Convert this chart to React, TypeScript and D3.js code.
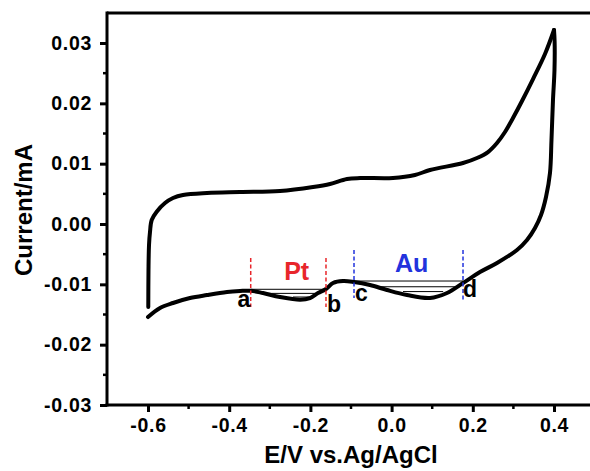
import React, { useRef, useEffect } from 'react';
import * as d3 from 'd3';

// anodic sweep, -0.6 V up to 0.4 V
const anodicE = [-0.5993, -0.5988, -0.5975, -0.5951, -0.5909, -0.5786, -0.5581, -0.5384, -0.5138, -0.4547, -0.3734, -0.2749, -0.1936, -0.1517, -0.1099, -0.0778, 0.0034, 0.0576, 0.0946, 0.1759, 0.2103, 0.2374, 0.2596, 0.2793, 0.299, 0.3212, 0.3483, 0.3778, 0.4];
const anodicI = [-0.01376, -0.00762, -0.00348, -0.00133, 0.00066, 0.00204, 0.00348, 0.00431, 0.00481, 0.00514, 0.0053, 0.00547, 0.00613, 0.00663, 0.00746, 0.00762, 0.00762, 0.00812, 0.00895, 0.01011, 0.01094, 0.01193, 0.01343, 0.01525, 0.01757, 0.02039, 0.02403, 0.02818, 0.03216];

// cathodic sweep, back from 0.4 V to -0.6 V
const cathodicE = [0.4, 0.4015, 0.4012, 0.3975, 0.3938, 0.3901, 0.3803, 0.368, 0.3532, 0.3335, 0.3089, 0.2596, 0.2177, 0.1759, 0.1365, 0.0946, 0.0379, -0.0113, -0.0532, -0.0926, -0.1197, -0.1443, -0.1616, -0.1813, -0.201, -0.225, -0.2749, -0.3167, -0.347, -0.3734, -0.4054, -0.4547, -0.4966, -0.5384, -0.5704, -0.6];
const cathodicI = [0.03216, 0.0303, 0.02553, 0.02055, 0.01392, 0.00845, 0.00448, 0.00149, -0.00066, -0.00265, -0.00431, -0.00646, -0.00796, -0.00978, -0.01144, -0.01227, -0.01177, -0.01094, -0.01011, -0.00961, -0.00945, -0.00978, -0.01077, -0.01144, -0.01227, -0.01255, -0.0121, -0.01144, -0.01106, -0.01111, -0.01127, -0.01177, -0.01227, -0.01309, -0.01392, -0.01542];

const xTicks = [-0.6, -0.4, -0.2, 0.0, 0.2, 0.4];
const yTicks = [-0.03, -0.02, -0.01, 0.0, 0.01, 0.02, 0.03];

// integration limits a,b (Pt) and c,d (Au)
const markerLabels = ['a', 'b', 'c', 'd'];
const markerE = [-0.347, -0.1616, -0.0926, 0.1759];
const markerColors = ['#e8262b', '#e8262b', '#2233dd', '#2233dd'];

// baseline segments [e1, e2, i]
const baseLines = [
  [-0.347, -0.1616, -0.01082],
  [-0.317, -0.176, -0.0115],
  [-0.243, -0.194, -0.0121],
  [-0.0926, 0.1759, -0.00945],
  [-0.036, 0.168, -0.0104],
  [0.028, 0.127, -0.0112],
];

const App = () => {
  const svgRef = useRef<SVGSVGElement>(null);

  useEffect(() => {
    const svg = d3.select(svgRef.current);
    svg.selectAll('*').remove();

    const font = 'Arial, "Liberation Sans", sans-serif';
    const left = 107, top = 13, bottom = 405;

    const x = d3.scaleLinear().domain([-0.7, 0.5]).range([107.4, 594.6]);
    const y = d3.scaleLinear().domain([-0.03, 0.035]).range([bottom, bottom - 0.065 * 6033]);

    // frame
    svg.append('line')
      .attr('x1', left).attr('x2', 600).attr('y1', top).attr('y2', top)
      .attr('stroke', '#000').attr('stroke-width', 3);

    const yAxis = svg.append('g')
      .attr('transform', `translate(${left},0)`)
      .call(d3.axisLeft(y).tickValues(yTicks).tickSize(7).tickPadding(8)
        .tickFormat(d => d3.format('.2f')(+d).replace('−', '-').replace('-0.00', '0.00')));
    const xAxis = svg.append('g')
      .attr('transform', `translate(0,${bottom})`)
      .call(d3.axisBottom(x).tickValues(xTicks).tickSize(7).tickPadding(6)
        .tickFormat(d => d3.format('.1f')(+d).replace('−', '-')));

    [xAxis, yAxis].forEach(g => {
      g.select('.domain').attr('stroke-width', 3);
      g.selectAll('.tick line').attr('stroke-width', 3);
      g.selectAll('.tick text')
        .attr('font-family', font).attr('font-size', 19.5).attr('font-weight', 'bold')
        .attr('letter-spacing', 0.7).attr('fill', '#000');
    });
    yAxis.select('.domain').attr('d', `M0,${bottom + 1.5}V${top - 1.5}`);
    xAxis.select('.domain').attr('d', `M${left - 1.5},0H600`);

    // minor ticks
    const yMinor = [-0.025, -0.015, -0.005, 0.005, 0.015, 0.025];
    svg.append('g').selectAll('line').data(yMinor).join('line')
      .attr('x1', left - 4).attr('x2', left).attr('y1', d => y(d)).attr('y2', d => y(d))
      .attr('stroke', '#000').attr('stroke-width', 2.5);
    const xMinor = [-0.5, -0.3, -0.1, 0.1, 0.3];
    svg.append('g').selectAll('line').data(xMinor).join('line')
      .attr('x1', d => x(d)).attr('x2', d => x(d)).attr('y1', bottom).attr('y2', bottom + 4)
      .attr('stroke', '#000').attr('stroke-width', 2.5);

    // axis titles
    svg.append('text')
      .attr('x', 351).attr('y', 463).attr('text-anchor', 'middle')
      .attr('font-family', font).attr('font-size', 24).attr('font-weight', 'bold')
      .text('E/V vs.Ag/AgCl');
    svg.append('text')
      .attr('transform', 'translate(32,210) rotate(-90)').attr('text-anchor', 'middle')
      .attr('font-family', font).attr('font-size', 24).attr('font-weight', 'bold')
      .text('Current/mA');

    // baselines
    svg.append('g').selectAll('line').data(baseLines).join('line')
      .attr('x1', d => x(d[0])).attr('x2', d => x(d[1]))
      .attr('y1', d => y(d[2])).attr('y2', d => y(d[2]))
      .attr('stroke', '#000').attr('stroke-width', 1);

    // CV curve
    const line = d3.line<number[]>()
      .x(d => x(d[0])).y(d => y(d[1]))
      .curve(d3.curveCatmullRom.alpha(0.5));
    const anodic = anodicE.map((e, i) => [e, anodicI[i]]);
    const cathodic = cathodicE.map((e, i) => [e, cathodicI[i]]);
    [anodic, cathodic].forEach(pts => {
      svg.append('path')
        .attr('d', line(pts))
        .attr('fill', 'none').attr('stroke', '#000')
        .attr('stroke-width', 4).attr('stroke-linejoin', 'round').attr('stroke-linecap', 'round');
    });

    // dashed limits
    const dashTop = [-0.00564, -0.00564, -0.00431, -0.00431];
    const dashBot = [-0.01376, -0.01376, -0.01227, -0.01260];
    svg.append('g').selectAll('line').data(markerE).join('line')
      .attr('x1', d => x(d)).attr('x2', d => x(d))
      .attr('y1', (d, i) => y(dashTop[i])).attr('y2', (d, i) => y(dashBot[i]))
      .attr('stroke', (d, i) => markerColors[i]).attr('stroke-width', 1.5)
      .attr('stroke-dasharray', '4,2.5');

    const lblX = [244, 334, 361.5, 470];
    const lblY = [307, 312, 300.5, 297];
    svg.append('g').selectAll('text').data(markerLabels).join('text')
      .attr('x', (d, i) => lblX[i]).attr('y', (d, i) => lblY[i])
      .attr('text-anchor', 'middle')
      .attr('font-family', font).attr('font-size', 23).attr('font-weight', 600)
      .text(d => d);

    svg.append('text')
      .attr('x', 296.7).attr('y', 280).attr('text-anchor', 'middle')
      .attr('font-family', font).attr('font-size', 25).attr('font-weight', 'bold')
      .attr('fill', '#e8262b').text('Pt');
    svg.append('text')
      .attr('x', 411.7).attr('y', 271.7).attr('text-anchor', 'middle')
      .attr('font-family', font).attr('font-size', 25).attr('font-weight', 'bold')
      .attr('fill', '#2233dd').text('Au');
  }, []);

  return (
    <svg ref={svgRef} width={590} height={471}
      style={{ position: 'absolute', left: 0, top: 0, background: '#fff' }} />
  );
};

export default App;
